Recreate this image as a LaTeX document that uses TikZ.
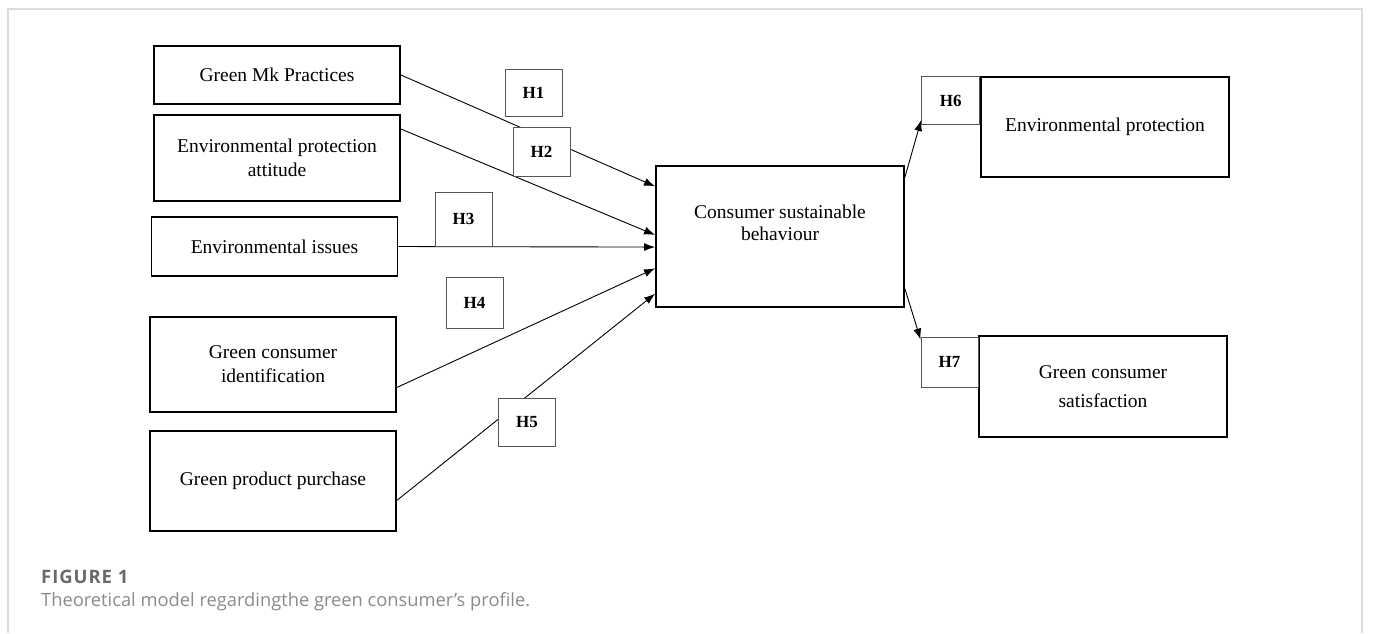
\documentclass[tikz,border=0pt]{standalone}
\usepackage{fontspec}
\setmainfont{Liberation Serif}
\newfontfamily\capfont{Open Sans}
\newfontfamily\figfont[LetterSpace=5]{Open Sans}
\usetikzlibrary{arrows.meta, calc}
\definecolor{framegray}{HTML}{DCDCDC}
\definecolor{hgray}{HTML}{555555}
\definecolor{capgray}{HTML}{6A6A6A}
\definecolor{textgray}{HTML}{8A8A8A}

\begin{document}
\begin{tikzpicture}[x=1pt,y=-1pt,
        element/.style={draw,line width=1.8pt,minimum width=246pt,inner sep=0pt,align=center,font=\fontsize{19.5}{24}\selectfont},
        hyp/.style={draw=hgray,line width=0.9pt,fill=white,minimum width=57pt,minimum height=49pt,inner sep=0pt,font=\bfseries\fontsize{17}{20}\selectfont},
        link/.style={line width=0.9pt,-{Latex[length=11pt,width=8pt]}}]
        \useasboundingbox (0,0) rectangle (1375,633);
        \draw[framegray,line width=1.5pt] (8,633) |- (1362,9) -- (1362,633);

        \node[element,minimum height=58pt] (gmp) at (277,75) {Green Mk Practices};
        \node[element,minimum height=86pt] (epa) at (277,158) {Environmental protection\\attitude};
        \node[element,minimum height=59pt] (ei) at (274.5,246.5) {Environmental issues};
        \node[element,minimum height=95pt] (gci) at (273,364.5) {Green consumer\\identification};
        \node[element,minimum height=100pt] (gpp) at (273,481) {Green product purchase};

        \node[element,minimum width=248pt,minimum height=141pt] (csb) at (780,236.5) {};
        \node[align=center,font=\fontsize{19.5}{22}\selectfont] (csbtext) at ([yshift=13.5pt]csb.center) {Consumer sustainable\\behaviour};

        \node[element,minimum width=248pt,minimum height=100pt] (ep) at (1105,127) {Environmental protection};
        \node[element,minimum width=248pt,minimum height=101pt] (gcs) at (1103,386.5) {Green consumer\\[5pt]satisfaction};

        \draw[link] (gmp.east) -- ($(csb.north west)!0.149!(csb.south west)$);
        \draw[link] ($(epa.north east)!0.17!(epa.south east)$) -- ($(csb.north west)!0.489!(csb.south west)$);
        \draw[link] (ei.east) -- ($(csb.north west)!0.574!(csb.south west)$);
        \draw[link] ($(gci.north east)!0.737!(gci.south east)$) -- ($(csb.north west)!0.723!(csb.south west)$);
        \draw[link] ($(gpp.north east)!0.69!(gpp.south east)$) -- ($(csb.north west)!0.901!(csb.south west)$);

        \node[hyp,minimum height=47pt] (h1) at (533.5,92.5) {H1};
        \node[hyp] (h2) at (541.5,151.5) {H2};
        \node[hyp,minimum height=54pt] (h3) at (463.5,219) {H3};
        \node[hyp,minimum height=51pt] (h4) at (474.5,302.5) {H4};
        \node[hyp,minimum height=48pt] (h5) at (527,422) {H5};
        \node[hyp,minimum width=58pt,minimum height=48pt,anchor=north east] (h6) at (ep.north west) {H6};
        \node[hyp,minimum height=50pt] (h7) at (949.5,362) {H7};

        \draw[link] ($(csb.north east)!0.085!(csb.south east)$) -- ([yshift=5pt]h6.south west);
        \draw[link] ($(csb.north east)!0.865!(csb.south east)$) -- ([yshift=-3pt]h7.north west);

        \node[anchor=base west,inner sep=0pt,text=capgray,font=\figfont\bfseries\fontsize{18.5}{20}\selectfont] (fig) at (41,583) {FIGURE 1};
        \node[anchor=base west,inner sep=0pt,text=textgray,font=\capfont\fontsize{18.3}{20}\selectfont] (cap) at (41,606) {Theoretical model regardingthe green consumer’s profile.};
\end{tikzpicture}
\end{document}
